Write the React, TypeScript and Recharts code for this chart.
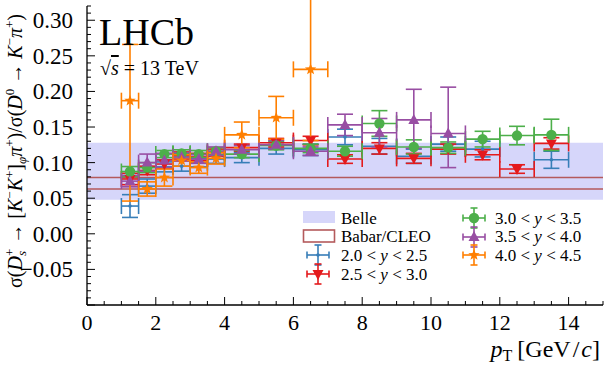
import React from 'react'
import {
  ComposedChart,
  Scatter,
  XAxis,
  YAxis,
  ErrorBar,
  ReferenceArea,
  ReferenceLine,
} from 'recharts'

// pT bins [GeV/c]
const ptCenters = [1.25, 1.75, 2.25, 2.75, 3.25, 3.75, 4.5, 5.5, 6.5, 7.5, 8.5, 9.5, 10.5, 11.5, 12.5, 13.5]
const ptHalfWidths = [0.25, 0.25, 0.25, 0.25, 0.25, 0.25, 0.5, 0.5, 0.5, 0.5, 0.5, 0.5, 0.5, 0.5, 0.5, 0.5]

// ratio per rapidity bin (null = no point)
const y20to25 = [0.039, 0.067, 0.094, 0.095, 0.1, 0.105, 0.107, 0.12, 0.118, 0.136, 0.123, 0.109, 0.126, 0.119, null, 0.104]
const y20to25Err = [0.016, 0.01, 0.007, 0.007, 0.006, 0.006, 0.007, 0.008, 0.008, 0.011, 0.011, 0.01, 0.01, 0.011, null, 0.012]

const y25to30 = [0.077, 0.089, 0.098, 0.11, 0.108, 0.114, 0.121, 0.128, 0.131, 0.105, 0.12, 0.106, 0.119, 0.111, 0.091, 0.127]
const y25to30Err = [0.008, 0.006, 0.006, 0.005, 0.005, 0.005, 0.005, 0.006, 0.006, 0.006, 0.008, 0.007, 0.007, 0.007, 0.006, 0.008]

const y30to35 = [0.0875, 0.093, 0.112, 0.113, 0.112, 0.116, 0.112, 0.124, 0.12, 0.116, 0.155, 0.122, 0.121, 0.133, 0.138, 0.139]
const y30to35Err = [0.007, 0.007, 0.005, 0.005, 0.005, 0.005, 0.005, 0.006, 0.006, 0.007, 0.018, 0.01, 0.008, 0.011, 0.013, 0.022]

const y35to40 = [0.074, 0.1, 0.103, 0.108, 0.105, 0.116, 0.118, 0.125, 0.116, 0.153, 0.142, 0.16, 0.141, null, null, null]
const y35to40Lo = [0.008, 0.012, 0.01, 0.006, 0.006, 0.006, 0.006, 0.006, 0.006, 0.015, 0.02, 0.04, 0.048, null, null, null]
const y35to40Hi = [0.008, 0.012, 0.01, 0.006, 0.006, 0.006, 0.006, 0.006, 0.006, 0.015, 0.02, 0.043, 0.065, null, null, null]

const y40to45 = [0.187, 0.063, 0.079, 0.103, 0.093, 0.106, 0.139, 0.163, 0.231, null, null, null, null, null, null, null]
const y40to45Lo = [0.141, 0.01, 0.012, 0.008, 0.008, 0.008, 0.018, 0.03, 0.1, null, null, null, null, null, null, null]
const y40to45Hi = [0.079, 0.01, 0.012, 0.008, 0.008, 0.008, 0.018, 0.03, 0.2, null, null, null, null, null, null, null]

// e+e- references
const belleLow = 0.048
const belleHigh = 0.128
const babarCleo = [0.063, 0.079]

const xTicks = Array.from({ length: 31 }, (_, i) => i * 0.5)
const yTicks = Array.from({ length: 43 }, (_, i) => Math.round(-10 + i) / 100)

const FONT = '"Liberation Serif", "DejaVu Serif", serif'

const COLORS = {
  blue: '#377eb8',
  red: '#e41a1c',
  green: '#4daf4a',
  purple: '#984ea3',
  orange: '#ff7f00',
  belle: '#d6d6fa',
  babar: '#b45a5c',
}

function build(vals: (number | null)[], lo: (number | null)[], hi?: (number | null)[]) {
  const out: any[] = []
  vals.forEach((v, i) => {
    if (v == null) return
    out.push({
      x: ptCenters[i],
      y: v,
      ex: ptHalfWidths[i],
      ey: hi ? [lo[i], hi[i]] : lo[i],
    })
  })
  return out
}

const blueData = build(y20to25, y20to25Err)
const redData = build(y25to30, y25to30Err)
const greenData = build(y30to35, y30to35Err)
const purpleData = build(y35to40, y35to40Lo, y35to40Hi)
const orangeData = build(y40to45, y40to45Lo, y40to45Hi)

const starPoints = (cx: number, cy: number, r: number) => {
  const pts: string[] = []
  for (let i = 0; i < 10; i++) {
    const rr = i % 2 === 0 ? r : r * 0.42
    const a = -Math.PI / 2 + (i * Math.PI) / 5
    pts.push(`${cx + rr * Math.cos(a)},${cy + rr * Math.sin(a)}`)
  }
  return pts.join(' ')
}

const marker = (kind: string, color: string) => (p: any) => {
  const { cx, cy } = p
  if (cx == null || cy == null) return <g />
  if (kind === 'circle') return <circle cx={cx} cy={cy} r={5.2} fill={color} />
  if (kind === 'up') return <polygon points={`${cx},${cy - 6} ${cx - 5.5},${cy + 4} ${cx + 5.5},${cy + 4}`} fill={color} />
  if (kind === 'down') return <polygon points={`${cx},${cy + 6} ${cx - 5.5},${cy - 4} ${cx + 5.5},${cy - 4}`} fill={color} />
  if (kind === 'star') return <polygon points={starPoints(cx, cy, 6)} fill={color} />
  return <circle cx={cx} cy={cy} r={1.8} fill={color} />
}

const isMajorX = (v: number) => Math.abs(v % 2) < 1e-6
const isMajorY = (v: number) => Math.round(v * 100) % 5 === 0

const BottomTick = (p: any) => {
  const v = p.payload.value
  const major = isMajorX(v)
  return (
    <g>
      <line x1={p.x} x2={p.x} y1={p.y} y2={p.y - (major ? 8 : 4)} stroke="#000" strokeWidth={1} />
      {major && v < 15 && (
        <text x={p.x} y={p.y + 25} textAnchor="middle" fontFamily={FONT} fontSize={22} fill="#000">
          {v}
        </text>
      )}
    </g>
  )
}

const TopTick = (p: any) => {
  const major = isMajorX(p.payload.value)
  return <line x1={p.x} x2={p.x} y1={p.y} y2={p.y + (major ? 8 : 4)} stroke="#000" strokeWidth={1} />
}

const LeftTick = (p: any) => {
  const v = p.payload.value
  const major = isMajorY(v)
  const label = v < 0 ? '\u2212' + Math.abs(v).toFixed(2) : v.toFixed(2)
  return (
    <g>
      <line x1={p.x} x2={p.x + (major ? 8 : 4)} y1={p.y} y2={p.y} stroke="#000" strokeWidth={1} />
      {major && v > -0.09 && (
        <text x={p.x - 14} y={p.y + 8} textAnchor="end" fontFamily={FONT} fontSize={23} fill="#000">
          {label}
        </text>
      )}
    </g>
  )
}

const RightTick = (p: any) => {
  const major = isMajorY(p.payload.value)
  return <line x1={p.x} x2={p.x - (major ? 8 : 4)} y1={p.y} y2={p.y} stroke="#000" strokeWidth={1} />
}

const LegendPoint = ({ x, y, color, kind }: { x: number; y: number; color: string; kind: string }) => (
  <g stroke={color} strokeWidth={1.6}>
    <line x1={x - 11} x2={x + 11} y1={y} y2={y} />
    <line x1={x - 11} x2={x - 11} y1={y - 3.5} y2={y + 3.5} />
    <line x1={x + 11} x2={x + 11} y1={y - 3.5} y2={y + 3.5} />
    <line x1={x} x2={x} y1={y - 10} y2={y + 10} />
    <line x1={x - 3.5} x2={x + 3.5} y1={y - 10} y2={y - 10} />
    <line x1={x - 3.5} x2={x + 3.5} y1={y + 10} y2={y + 10} />
    <g stroke="none">{marker(kind, color)({ cx: x, cy: y })}</g>
  </g>
)

const RangeText = ({ x, y, lo, hi }: { x: number; y: number; lo: string; hi: string }) => (
  <text x={x} y={y} fontFamily={FONT} fontSize={17} fill="#000">
    {lo} {'<'} <tspan fontStyle="italic">y</tspan> {'<'} {hi}
  </text>
)

function Series({ data, color, kind }: { data: any[]; color: string; kind: string }) {
  return (
    <Scatter data={data} dataKey="y" shape={marker(kind, color)} isAnimationActive={false}>
      <ErrorBar dataKey="ex" direction="x" stroke={color} strokeWidth={1.6} width={8} />
      <ErrorBar dataKey="ey" direction="y" stroke={color} strokeWidth={1.6} width={8} />
    </Scatter>
  )
}

export default function App() {
  return (
    <div style={{ position: 'relative', width: 610, height: 369, background: '#fff', fontFamily: FONT }}>
      <style>{`body{margin:0} svg text{font-family:"Liberation Serif","DejaVu Serif",serif}`}</style>
      <ComposedChart width={610} height={369} margin={{ top: 6, right: 7, bottom: 0, left: 0 }}>
        <XAxis
          type="number"
          dataKey="x"
          domain={[0, 15]}
          ticks={xTicks}
          interval={0}
          allowDataOverflow
          height={64}
          tickSize={0}
          tickMargin={0}
          tickLine={false}
          axisLine={{ stroke: '#000', strokeWidth: 1.3 }}
          tick={<BottomTick />}
        />
        <XAxis
          xAxisId="top"
          orientation="top"
          type="number"
          domain={[0, 15]}
          ticks={xTicks}
          interval={0}
          height={0}
          tickSize={0}
          tickMargin={0}
          tickLine={false}
          axisLine={{ stroke: '#000', strokeWidth: 1.3 }}
          tick={<TopTick />}
        />
        <YAxis
          type="number"
          domain={[-0.1, 0.32]}
          ticks={yTicks}
          interval={0}
          allowDataOverflow
          width={87}
          tickSize={0}
          tickMargin={0}
          tickLine={false}
          axisLine={{ stroke: '#000', strokeWidth: 1.3 }}
          tick={<LeftTick />}
        />
        <YAxis
          yAxisId="right"
          orientation="right"
          type="number"
          domain={[-0.1, 0.32]}
          ticks={yTicks}
          interval={0}
          width={0}
          tickSize={0}
          tickMargin={0}
          tickLine={false}
          axisLine={{ stroke: '#000', strokeWidth: 1.3 }}
          tick={<RightTick />}
        />
        <ReferenceArea x1={0} x2={15} y1={belleLow} y2={belleHigh} fill={COLORS.belle} fillOpacity={1} stroke="none" />
        {babarCleo.map((v) => (
          <ReferenceLine key={v} y={v} stroke={COLORS.babar} strokeWidth={1.6} />
        ))}
        <Series data={blueData} color={COLORS.blue} kind="dot" />
        <Series data={redData} color={COLORS.red} kind="down" />
        <Series data={greenData} color={COLORS.green} kind="circle" />
        <Series data={purpleData} color={COLORS.purple} kind="up" />
        <Series data={orangeData} color={COLORS.orange} kind="star" />
      </ComposedChart>

      <svg width={610} height={369} style={{ position: 'absolute', left: 0, top: 0, pointerEvents: 'none' }}>
        <text x={99} y={45} fontFamily={FONT} fontSize={38} fill="#000">LHCb</text>
        <text x={100} y={75} fontFamily={FONT} fontSize={20} fill="#000">
          {'\u221A'}
          <tspan fontStyle="italic" textDecoration="overline">s</tspan> = 13 TeV
        </text>

        <text
          transform="translate(22,151) rotate(-90)"
          textAnchor="middle"
          fontFamily={FONT}
          fontSize={20}
          fill="#000"
        >
          {'\u03C3('}
          <tspan fontStyle="italic">D</tspan>
          <tspan fontSize={13} dy={4} fontStyle="italic">s</tspan>
          <tspan fontSize={13} dx={-5} dy={-12}>+</tspan>
          <tspan dy={8}> {'\u2192'} [</tspan>
          <tspan fontStyle="italic">K</tspan>
          <tspan fontSize={13} dy={-8}>{'\u2212'}</tspan>
          <tspan fontStyle="italic" dy={8}>K</tspan>
          <tspan fontSize={13} dy={-8}>+</tspan>
          <tspan dy={8}>]</tspan>
          <tspan fontSize={13} dy={4} fontStyle="italic">{'\u03C6'}</tspan>
          <tspan fontStyle="italic" dy={-4}>{'\u03C0'}</tspan>
          <tspan fontSize={13} dy={-8}>+</tspan>
          <tspan dy={8}>){'/\u03C3('}</tspan>
          <tspan fontStyle="italic">D</tspan>
          <tspan fontSize={13} dy={-8}>0</tspan>
          <tspan dy={8}> {'\u2192'} </tspan>
          <tspan fontStyle="italic">K</tspan>
          <tspan fontSize={13} dy={-8}>{'\u2212'}</tspan>
          <tspan fontStyle="italic" dy={8}>{'\u03C0'}</tspan>
          <tspan fontSize={13} dy={-8}>+</tspan>
          <tspan dy={8}>)</tspan>
        </text>

        <text x={600} y={357} textAnchor="end" fontFamily={FONT} fontSize={24} fill="#000">
          <tspan fontStyle="italic">p</tspan>
          <tspan fontSize={16} dy={4}>T</tspan>
          <tspan dy={-4} dx={5}>[GeV</tspan>
          <tspan dx={2}>/</tspan>
          <tspan fontStyle="italic" dx={2}>c</tspan>]
        </text>

        {/* legend */}
        <rect x={303} y={211} width={32} height={12} fill={COLORS.belle} />
        <text x={341} y={224} fontFamily={FONT} fontSize={17} fill="#000">Belle</text>
        <rect x={303.5} y={230} width={31} height={12} fill="none" stroke={COLORS.babar} strokeWidth={1.6} />
        <text x={341} y={242} fontFamily={FONT} fontSize={17} fill="#000">Babar/CLEO</text>
        <LegendPoint x={318} y={255} color={COLORS.blue} kind="dot" />
        <RangeText x={341} y={261} lo="2.0" hi="2.5" />
        <LegendPoint x={318} y={274} color={COLORS.red} kind="down" />
        <RangeText x={341} y={280} lo="2.5" hi="3.0" />
        <LegendPoint x={474} y={218} color={COLORS.green} kind="circle" />
        <RangeText x={495} y={224} lo="3.0" hi="3.5" />
        <LegendPoint x={474} y={237} color={COLORS.purple} kind="up" />
        <RangeText x={495} y={242} lo="3.5" hi="4.0" />
        <LegendPoint x={474} y={255} color={COLORS.orange} kind="star" />
        <RangeText x={495} y={261} lo="4.0" hi="4.5" />
      </svg>
    </div>
  )
}
